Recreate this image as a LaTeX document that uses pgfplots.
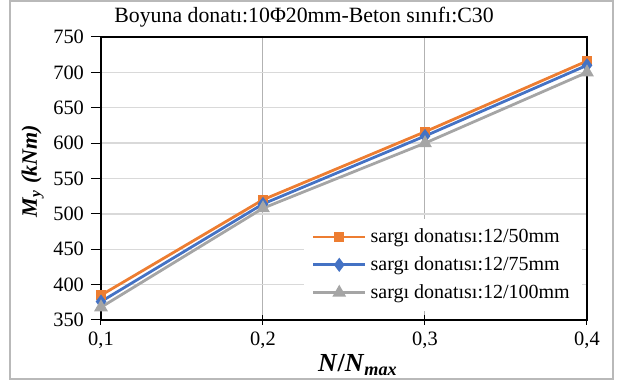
\documentclass[border=0pt]{standalone}
\usepackage{pgfplots}
\pgfplotsset{compat=1.18}
\usepackage{fontspec}
\setmainfont{Liberation Serif}
\definecolor{corange}{HTML}{ED7D31}
\definecolor{cblue}{HTML}{4472C4}
\definecolor{cgrey}{HTML}{A5A5A5}
\definecolor{gridc}{HTML}{D9D9D9}
\begin{document}
\begin{tikzpicture}
\useasboundingbox (0,0) rectangle (308.5pt,192.5pt);
\draw[gray!55, line width=0.6pt] (5pt,3pt) rectangle (306.5pt,192pt);
\node[font=\fontsize{10.9}{12}\selectfont] at (152pt,184pt) {Boyuna donatı:10Φ20mm-Beton sınıfı:C30};
\begin{axis}[
  at={(50.5pt,32.5pt)}, anchor=south west,
  scale only axis, width=243pt, height=141.5pt,
  xmin=0.1, xmax=0.4, ymin=350, ymax=750,
  xtick={0.1,0.2,0.3,0.4}, ytick={350,400,...,750},
  xticklabel style={/pgf/number format/.cd, fixed, fixed zerofill, precision=1, use comma, assume math mode=true},
  yticklabel style={/pgf/number format/assume math mode=true},
  ticklabel style={font=\fontsize{10.2}{12}\selectfont},
  xmajorgrids, ymajorgrids,
  x grid style={gray!60, line width=0.5pt},
  y grid style={gridc, line width=0.7pt},
  axis line style={black, line width=0.7pt},
  major tick length=5pt,
  xtick align=center, ytick align=outside,
  tick style={black, line width=0.5pt},
  xtick pos=bottom, ytick pos=left,
  xlabel={\textbf{\textit{N}/\textit{N}\textsubscript{\textit{max}}}},
  ylabel={\textbf{\textit{M}\textsubscript{\textit{y}} \textit{(kNm)}}},
  ylabel style={font=\fontsize{11}{13}\selectfont, at={(ticklabel cs:0.525)}, yshift=-2pt},
  xlabel style={font=\fontsize{13}{15}\selectfont, yshift=4pt, xshift=7pt},
  legend style={at={(0.99,0.36)}, anchor=north east, draw=none, fill=white,
    font=\fontsize{10}{12}\selectfont, row sep=1.5pt, inner xsep=4pt, inner ysep=3pt},
  legend cell align=left,
  legend image code/.code={\draw[#1] (0pt,0pt) -- (13pt,0pt) plot coordinates {(13pt,0pt)} -- (26pt,0pt);},
]
\addplot[corange, line width=1.4pt, mark=square*, mark size=1.9pt, mark options={solid}] coordinates {(0.1,385) (0.2,520) (0.3,616) (0.4,716)};
\addlegendentry{sargı donatısı:12/50mm}
\addplot[cblue, line width=1.4pt, mark=diamond*, mark size=2.4pt, mark options={solid}] coordinates {(0.1,376) (0.2,514) (0.3,610) (0.4,710)};
\addlegendentry{sargı donatısı:12/75mm}
\addplot[cgrey, line width=1.4pt, mark=triangle*, mark size=2.6pt, mark options={solid}] coordinates {(0.1,368) (0.2,508) (0.3,600) (0.4,700)};
\addlegendentry{sargı donatısı:12/100mm}
\end{axis}
\end{tikzpicture}
\end{document}
